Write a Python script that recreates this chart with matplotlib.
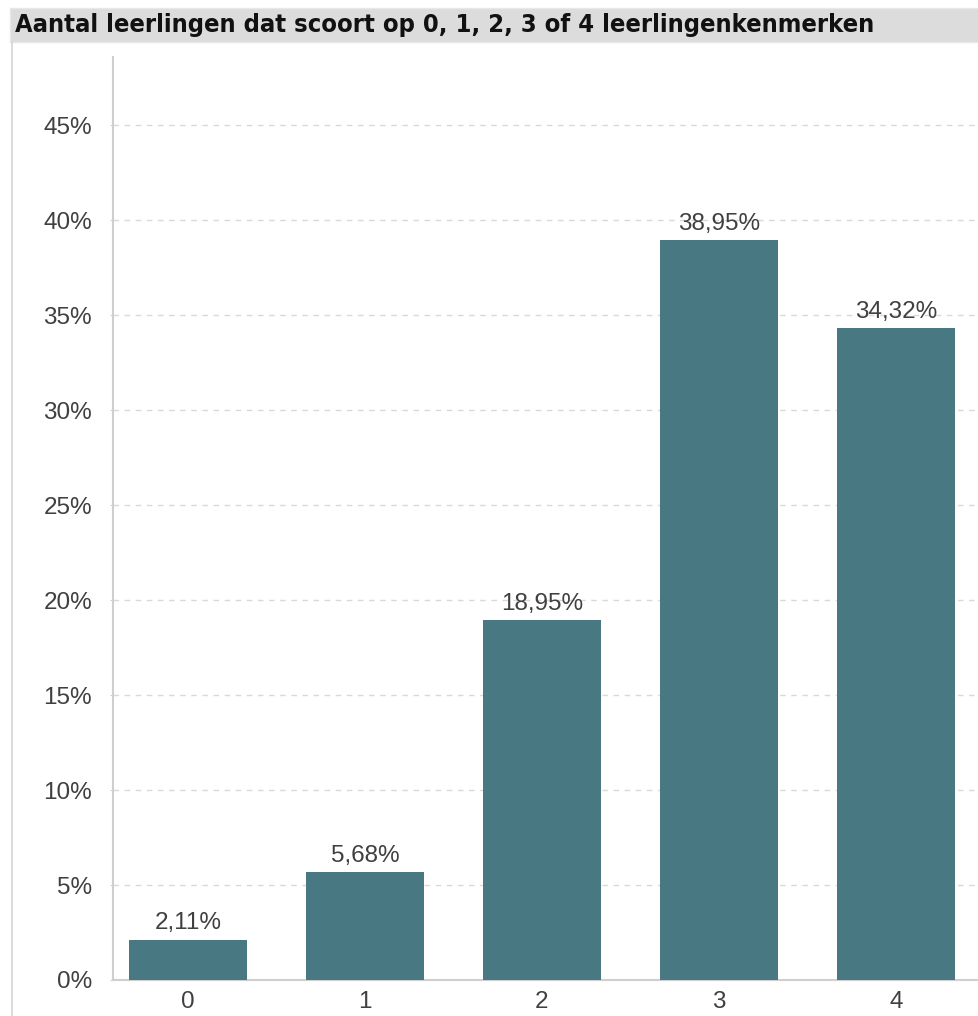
import matplotlib
matplotlib.use("Agg")
import matplotlib.pyplot as plt
from matplotlib.patches import Rectangle
from matplotlib.lines import Line2D
from matplotlib.ticker import FuncFormatter, MultipleLocator

# ---- data ----
categories = ["0", "1", "2", "3", "4"]
values = [2.11, 5.68, 18.95, 38.95, 34.32]
value_labels = ["2,11%", "5,68%", "18,95%", "38,95%", "34,32%"]
title = "Aantal leerlingen dat scoort op 0, 1, 2, 3 of 4 leerlingenkenmerken"

W, H = 979, 1016
DPI = 100
fig = plt.figure(figsize=(W / DPI, H / DPI), dpi=DPI)
fig.patch.set_facecolor("white")

def fx(px):
    return px / W

def fy(py):
    return 1 - py / H

# title bar
fig.add_artist(Rectangle((fx(10), fy(42)), fx(979) - fx(10), fy(8) - fy(42),
                         transform=fig.transFigure, facecolor="#dcdcdc",
                         edgecolor="#e8e8e8", linewidth=1))
t = fig.text(fx(15), fy(25), title, transform=fig.transFigure,
             ha="left", va="center", fontsize=16, fontweight="bold",
             family="DejaVu Sans", fontstretch="condensed", color="#111111")
# fit title width to ~862 px
fig.canvas.draw()
bb = t.get_window_extent()
t.set_fontsize(16 * 862 / bb.width)

# left border line
fig.add_artist(Line2D([fx(12), fx(12)], [fy(42), 0], transform=fig.transFigure,
                      color="#d4d4d4", linewidth=1.2))

# axes
ax_left, ax_right = 113, 979
ax_top, ax_bot = 57, 980
ax = fig.add_axes([fx(ax_left), fy(ax_bot), fx(ax_right) - fx(ax_left), fy(ax_top) - fy(ax_bot)])
x = list(range(len(categories)))
bars = ax.bar(x, values, width=0.667, color="#487882", zorder=3)
ax.set_xlim(-0.424, 4.47)
ax.set_ylim(0, 48.6)
ax.yaxis.set_major_locator(MultipleLocator(5))
ax.yaxis.set_major_formatter(FuncFormatter(lambda v, p: f"{v:.0f}%"))
ax.set_xticks(x)
ax.set_xticklabels(categories)
for spine in ["top", "right"]:
    ax.spines[spine].set_visible(False)
for spine in ["left", "bottom"]:
    ax.spines[spine].set_color("#cfcfcf")
    ax.spines[spine].set_linewidth(1.5)
ax.tick_params(axis="y", length=2, color="#cfcfcf", pad=13, labelsize=17.5,
               labelcolor="#404040")
ax.tick_params(axis="x", length=0, pad=8, labelsize=17.5, labelcolor="#404040")
for lab in ax.get_xticklabels() + ax.get_yticklabels():
    lab.set_family("Liberation Sans")
ax.yaxis.grid(True, linestyle=(0, (4, 4)), color="#d9d9d9", linewidth=1, zorder=0)
ax.set_axisbelow(True)
for xi, v, lab in zip(x, values, value_labels):
    ax.annotate(lab, (xi, v), xytext=(0, 4), textcoords="offset points",
                ha="center", va="bottom", fontsize=17.5, color="#404040",
                family="Liberation Sans")

fig.savefig("out.png", dpi=DPI)
